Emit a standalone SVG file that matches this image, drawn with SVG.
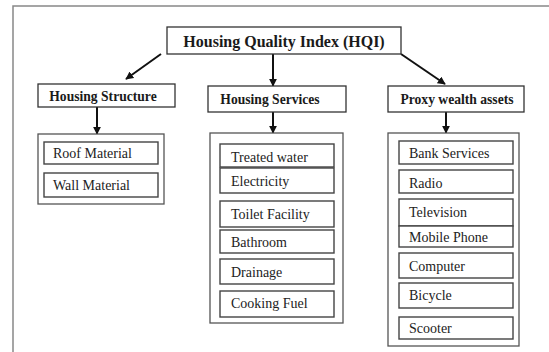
<svg xmlns="http://www.w3.org/2000/svg" width="549" height="352" viewBox="0 0 549 352">
<defs>
<marker id="ah" viewBox="0 0 10 10" refX="9" refY="5" markerWidth="8" markerHeight="8" markerUnits="userSpaceOnUse" orient="auto">
<path d="M0,0 L10,5 L0,10 z" fill="#111"/>
</marker>
<style>
.hdr{fill:#fff;stroke:#333;stroke-width:1.3}
.cont{fill:#fff;stroke:#555;stroke-width:1.3}
.item{fill:#fff;stroke:#444;stroke-width:1.4}
.bt{font-family:"Liberation Serif","Times New Roman",serif;font-weight:bold;fill:#1a1a1a}
.t{font-family:"Liberation Serif","Times New Roman",serif;font-size:14px;fill:#222}
.ln{stroke:#111;stroke-width:2;fill:none;marker-end:url(#ah)}
</style>
</defs>
<rect width="549" height="352" fill="#fff"/>
<path d="M13,352 L13,6 L549,6" fill="none" stroke="#888" stroke-width="1.5"/>

<g id="connectors">
<line class="ln" x1="161" y1="54" x2="126" y2="79"/>
<line class="ln" x1="273" y1="54" x2="273" y2="86"/>
<line class="ln" x1="401" y1="54" x2="445" y2="84"/>
<line class="ln" x1="97" y1="107" x2="97" y2="134"/>
<line class="ln" x1="273" y1="112" x2="273" y2="133"/>
<line class="ln" x1="446" y1="112" x2="446" y2="133"/>
</g>

<g id="hqi">
<rect class="hdr" x="167" y="27" width="234" height="27"/>
<text class="bt" x="284" y="47" font-size="16" text-anchor="middle">Housing Quality Index (HQI)</text>
</g>

<g id="housing-structure">
<rect class="hdr" x="38" y="84" width="137" height="23"/>
<text class="bt" x="103" y="101" font-size="13.6" text-anchor="middle">Housing Structure</text>
</g>
<g id="housing-services">
<rect class="hdr" x="208" y="86" width="138" height="26"/>
<text class="bt" x="270" y="104" font-size="13.6" text-anchor="middle">Housing Services</text>
</g>
<g id="proxy-wealth">
<rect class="hdr" x="388" y="86" width="136" height="26"/>
<text class="bt" x="457" y="104" font-size="13.6" text-anchor="middle">Proxy wealth assets</text>
</g>

<g id="structure-items">
<rect class="cont" x="38" y="134" width="126" height="70"/>
<g id="roof"><rect class="item" x="44" y="142" width="114" height="22"/><text class="t" x="53" y="158">Roof Material</text></g>
<g id="wall"><rect class="item" x="44" y="173" width="114" height="24"/><text class="t" x="53" y="190">Wall Material</text></g>
</g>

<g id="services-items">
<rect class="cont" x="210" y="133" width="133" height="190"/>
<g id="water"><rect class="item" x="220" y="144" width="114" height="23"/><text class="t" x="231" y="162">Treated water</text></g>
<g id="electricity"><rect class="item" x="220" y="168" width="114" height="25"/><text class="t" x="231" y="186">Electricity</text></g>
<g id="toilet"><rect class="item" x="220" y="201" width="114" height="26"/><text class="t" x="231" y="219">Toilet Facility</text></g>
<g id="bathroom"><rect class="item" x="220" y="230" width="114" height="23"/><text class="t" x="231" y="247">Bathroom</text></g>
<g id="drainage"><rect class="item" x="220" y="259" width="114" height="25"/><text class="t" x="231" y="277">Drainage</text></g>
<g id="cooking"><rect class="item" x="220" y="291" width="114" height="26"/><text class="t" x="231" y="308">Cooking Fuel</text></g>
</g>

<g id="proxy-items">
<rect class="cont" x="388" y="133" width="131" height="213"/>
<g id="bank"><rect class="item" x="399" y="141" width="114" height="23"/><text class="t" x="409" y="158">Bank Services</text></g>
<g id="radio"><rect class="item" x="399" y="170" width="114" height="23"/><text class="t" x="409" y="188">Radio</text></g>
<g id="tv"><rect class="item" x="399" y="199" width="114" height="27"/><text class="t" x="409" y="217">Television</text></g>
<g id="mobile"><rect class="item" x="399" y="226" width="114" height="21"/><text class="t" x="409" y="242">Mobile Phone</text></g>
<g id="computer"><rect class="item" x="399" y="253" width="114" height="25"/><text class="t" x="409" y="271">Computer</text></g>
<g id="bicycle"><rect class="item" x="399" y="283" width="114" height="25"/><text class="t" x="409" y="300">Bicycle</text></g>
<g id="scooter"><rect class="item" x="399" y="317" width="114" height="22"/><text class="t" x="409" y="333" font-size="13">Scooter</text></g>
</g>
</svg>
